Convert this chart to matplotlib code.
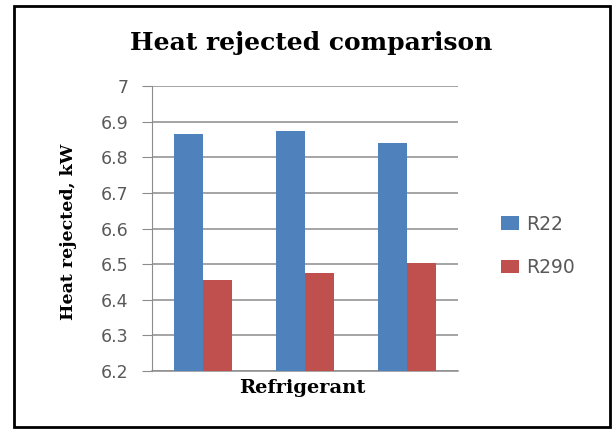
import numpy as np
import matplotlib.pyplot as plt
from matplotlib.patches import Rectangle

# values
cases = ['1', '2', '3']
r22 = [6.865, 6.875, 6.841]
r290 = [6.455, 6.474, 6.502]
yticks = [6.2, 6.3, 6.4, 6.5, 6.6, 6.7, 6.8, 6.9, 7]
ytick_labels = ['6.2', '6.3', '6.4', '6.5', '6.6', '6.7', '6.8', '6.9', '7']

serif = 'DejaVu Serif'

fig = plt.figure(figsize=(6.14, 4.30), dpi=100)
ax = fig.add_axes([0.2476, 0.137, 0.4984, 0.663])

x = np.arange(len(cases))
w = 0.28
ax.bar(x - w / 2, r22, w, bottom=0, color='#4F81BD', label='R22', zorder=3)
ax.bar(x + w / 2, r290, w, bottom=0, color='#C0504D', label='R290', zorder=3)

ax.set_ylim(6.2, 7)
ax.set_xlim(-0.5, 2.5)
ax.set_yticks(yticks)
ax.set_yticklabels(ytick_labels)
ax.set_xticks([])
ax.tick_params(axis='y', length=7, color='#8c8c8c', labelcolor='#595959',
               labelsize=12.5, pad=10)
ax.yaxis.grid(True, color='#8c8c8c', linewidth=1.1, zorder=0)

for side in ['top', 'right']:
    ax.spines[side].set_visible(False)
ax.spines['left'].set_color('#8c8c8c')
ax.spines['bottom'].set_color('#8c8c8c')
ax.spines['bottom'].set_linewidth(1.1)

ax.set_xlabel('Refrigerant', fontfamily=serif, fontweight='bold', fontsize=14)
ax.xaxis.label.set_va('baseline')
ax.xaxis.set_label_coords(0.492, -0.077)
ax.set_ylabel('Heat rejected, kW', fontfamily=serif, fontweight='bold', fontsize=12.5)
ax.yaxis.set_label_coords(-0.245, 0.488)

fig.text(0.507, 0.884, 'Heat rejected comparison', ha='center', va='baseline',
         fontfamily=serif, fontweight='bold', fontsize=18)

leg = fig.legend(loc='center left', bbox_to_anchor=(0.788, 0.428), frameon=False,
                 fontsize=13.5, handlelength=0.96, handleheight=0.75,
                 labelspacing=1.3, handletextpad=0.4)
for t in leg.get_texts():
    t.set_color('#595959')

# outer frame around the chart
fig.patches.append(Rectangle((0.022, 0.008), 0.972, 0.978, transform=fig.transFigure,
                             fill=False, edgecolor='black', linewidth=2))

fig.savefig('out.png', dpi=100)
